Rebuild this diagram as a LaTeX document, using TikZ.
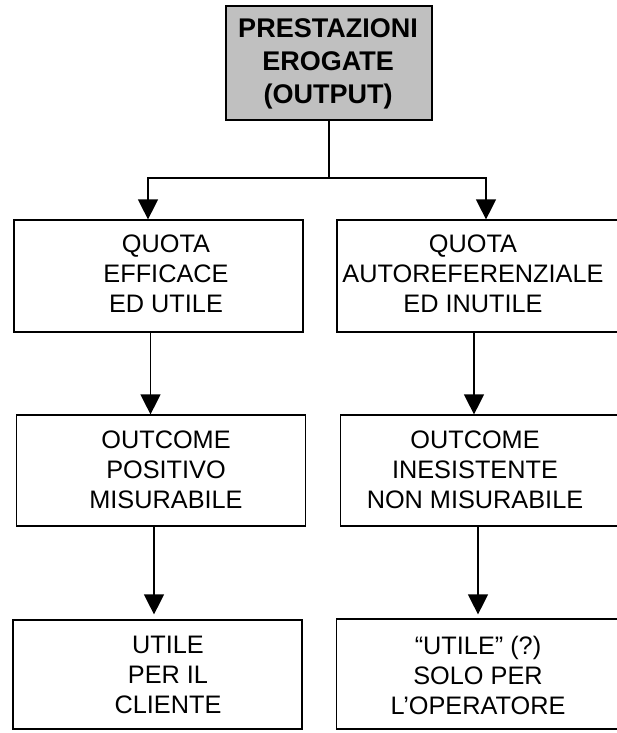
\documentclass[tikz,border=0pt]{standalone}
\usepackage{fontspec}
\setmainfont{Liberation Sans}
\usetikzlibrary{arrows.meta,calc}
\definecolor{topgray}{HTML}{C0C0C0}
\begin{document}
\begin{tikzpicture}[x=1pt,y=-1pt,
  box/.style={draw=black,line width=1.2pt,inner sep=0pt},
  txt/.style={align=center,font=\fontsize{25.3}{30}\selectfont,inner sep=0pt},
  btxt/.style={align=center,font=\fontsize{27}{33}\selectfont\bfseries,inner sep=0pt},
  ln/.style={line width=1.2pt},
  arr/.style={line width=1.2pt,-{Triangle[width=20pt,length=20pt]}}]
\useasboundingbox (0,0) rectangle (617,733);
\clip (0,0) rectangle (617,733);
% boxes
\node[box,fill=topgray,minimum width=206pt,minimum height=114pt] (top) at (329,63) {};
\node[box,minimum width=289pt,minimum height=112pt] (q1) at (158.5,276) {};
\node[box,minimum width=303pt,minimum height=112pt] (a1) at (488.5,276) {};
\node[box,minimum width=289pt,minimum height=111pt] (o1) at (161,470.5) {};
\node[box,minimum width=299.5pt,minimum height=111pt] (a2) at (490.25,470.5) {};
\node[box,minimum width=289pt,minimum height=109pt] (u1) at (157.5,674.5) {};
\node[box,minimum width=303.5pt,minimum height=110pt] (a3) at (488.25,674) {};
% texts
\node[btxt] (toptxt) at (328,64) {PRESTAZIONI\\EROGATE\\(OUTPUT)};
\node[txt] (q1t) at (166,274) {QUOTA\\EFFICACE\\ED UTILE};
\node[txt] (a1t) at (473,274) {QUOTA\\AUTOREFERENZIALE\\ED INUTILE};
\node[txt] (o1t) at (166,470) {OUTCOME\\POSITIVO\\MISURABILE};
\node[txt] (a2t) at (475,470) {OUTCOME\\INESISTENTE\\NON MISURABILE};
\node[txt] (u1t) at (168,675) {UTILE\\PER IL\\CLIENTE};
\node[txt] (a3t) at (478,675) {“UTILE” (?)\\SOLO PER\\L’OPERATORE};
% connectors
\coordinate (j) at (329,178);
\draw[ln] (top.south) -- (j);
\draw[arr] (j) -| ([xshift=-10.5pt]q1.north);
\draw[arr] (j) -| ([xshift=-2.5pt]a1.north);
\draw[arr] ([xshift=-8pt]q1.south) -- ([xshift=-8pt]q1.south |- o1.north);
\draw[arr] ([xshift=-14.5pt]a1.south) -- ([xshift=-14.5pt]a1.south |- a2.north);
\draw[arr,shorten >=5pt] ([xshift=-7pt]o1.south) -- ([xshift=-7pt]o1.south |- u1.north);
\draw[arr,shorten >=4pt] ([xshift=-12.25pt]a2.south) -- ([xshift=-12.25pt]a2.south |- a3.north);
\end{tikzpicture}
\end{document}
